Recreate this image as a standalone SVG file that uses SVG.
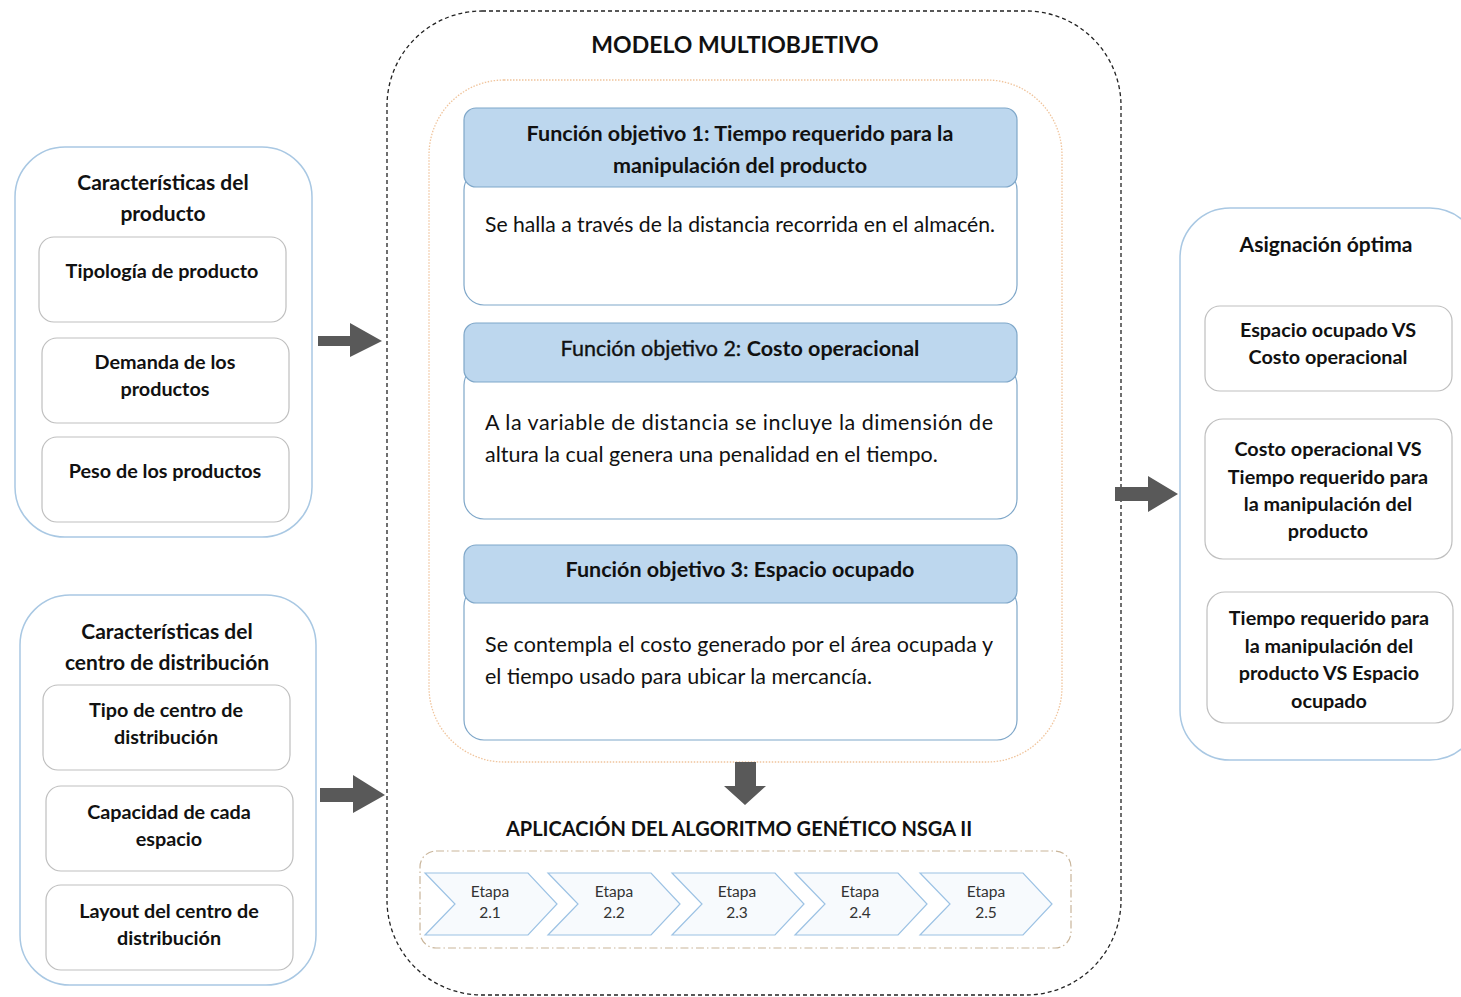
<svg xmlns="http://www.w3.org/2000/svg" width="1461" height="997" viewBox="0 0 1461 997">
  <defs>
    <style>
      text { font-family: Lato, "Open Sans", "Liberation Sans", sans-serif; fill: #111111; }
      .group-box { fill: #ffffff; stroke: #a9c8e3; stroke-width: 1.5; }
      .item-box { fill: #ffffff; stroke: #bfbfbf; stroke-width: 1.2; }
      .item { font-size: 19.8px; font-weight: bold; text-anchor: middle; }
      .title { font-size: 21px; font-weight: bold; text-anchor: middle; }
      .head { font-size: 23px; font-weight: bold; text-anchor: middle; }
      .sub { font-size: 20px; font-weight: bold; text-anchor: middle; }
      .fo-head { fill: #bdd7ee; stroke: #7fa7c9; stroke-width: 1.2; }
      .fo-body { fill: #ffffff; stroke: #7fa7c9; stroke-width: 1.2; }
      .fo-title { font-size: 21.5px; font-weight: bold; text-anchor: middle; }
      .fo-text { font-size: 21.5px; }
      .medium { font-weight: normal; stroke: #111111; stroke-width: 0.35; }
      .chev { fill: #f7fafd; stroke: #9cc2e4; stroke-width: 1.2; }
      .chev-text { font-size: 15.5px; fill: #333333; text-anchor: middle; }
      .block-arrow { fill: #595959; }
    </style>
  </defs>

  <rect width="1461" height="997" fill="#ffffff"/>

  <!-- Multi-objective model container -->
  <g id="modelo">
    <rect x="387" y="11" width="734" height="984" rx="95" ry="95" fill="none" stroke="#222" stroke-width="1.3" stroke-dasharray="4 3"/>
    <text class="head" x="735" y="53">MODELO MULTIOBJETIVO</text>
    <rect x="429" y="80" width="633" height="682" rx="75" ry="75" fill="none" stroke="#f0c49c" stroke-width="1.3" stroke-dasharray="1.5 1.5"/>
  </g>

  <!-- Objective function 1 -->
  <g id="fo1">
    <rect class="fo-body" x="464" y="170" width="553" height="135" rx="20" ry="20"/>
    <rect class="fo-head" x="464" y="108" width="553" height="79" rx="12" ry="12"/>
    <text class="fo-title" x="740" y="141">Función objetivo 1: Tiempo requerido para la</text>
    <text class="fo-title" x="740" y="173">manipulación del producto</text>
    <text class="fo-text" x="485" y="232" textLength="510" lengthAdjust="spacingAndGlyphs">Se halla a través de la distancia recorrida en el almacén.</text>
  </g>

  <!-- Objective function 2 -->
  <g id="fo2">
    <rect class="fo-body" x="464" y="365" width="553" height="154" rx="20" ry="20"/>
    <rect class="fo-head" x="464" y="323" width="553" height="59" rx="12" ry="12"/>
    <text class="fo-title" x="740" y="356"><tspan class="medium">Función objetivo 2: </tspan>Costo operacional</text>
    <text class="fo-text" x="485" y="430" textLength="508" lengthAdjust="spacing">A la variable de distancia se incluye la dimensión de</text>
    <text class="fo-text" x="485" y="462">altura la cual genera una penalidad en el tiempo.</text>
  </g>

  <!-- Objective function 3 -->
  <g id="fo3">
    <rect class="fo-body" x="464" y="586" width="553" height="154" rx="20" ry="20"/>
    <rect class="fo-head" x="464" y="545" width="553" height="58" rx="12" ry="12"/>
    <text class="fo-title" x="740" y="577">Función objetivo 3: Espacio ocupado</text>
    <text class="fo-text" x="485" y="652" textLength="508" lengthAdjust="spacing">Se contempla el costo generado por el área ocupada y</text>
    <text class="fo-text" x="485" y="684">el tiempo usado para ubicar la mercancía.</text>
  </g>

  <!-- NSGA II stages -->
  <g id="nsga">
    <text class="sub" x="739" y="836">APLICACIÓN DEL ALGORITMO GENÉTICO NSGA II</text>
    <rect x="420" y="851" width="651" height="97" rx="16" ry="16" fill="none" stroke="#c9b59a" stroke-width="1.2" stroke-dasharray="8 3 1.5 3"/>
  </g>
  <g id="etapa-2-1">
    <path class="chev" d="M425,873 H528 L557,904 L528,935 H425 L455,904 Z"/>
    <text class="chev-text" x="490" y="897">Etapa</text>
    <text class="chev-text" x="490" y="918">2.1</text>
  </g>
  <g id="etapa-2-2">
    <path class="chev" d="M548,873 H651 L680,904 L651,935 H548 L578,904 Z"/>
    <text class="chev-text" x="614" y="897">Etapa</text>
    <text class="chev-text" x="614" y="918">2.2</text>
  </g>
  <g id="etapa-2-3">
    <path class="chev" d="M672,873 H775 L804,904 L775,935 H672 L702,904 Z"/>
    <text class="chev-text" x="737" y="897">Etapa</text>
    <text class="chev-text" x="737" y="918">2.3</text>
  </g>
  <g id="etapa-2-4">
    <path class="chev" d="M795,873 H898 L927,904 L898,935 H795 L825,904 Z"/>
    <text class="chev-text" x="860" y="897">Etapa</text>
    <text class="chev-text" x="860" y="918">2.4</text>
  </g>
  <g id="etapa-2-5">
    <path class="chev" d="M920,873 H1023 L1052,904 L1023,935 H920 L950,904 Z"/>
    <text class="chev-text" x="986" y="897">Etapa</text>
    <text class="chev-text" x="986" y="918">2.5</text>
  </g>

  <!-- Product characteristics -->
  <g id="producto">
    <rect class="group-box" x="15" y="147" width="297" height="390" rx="50" ry="50"/>
    <text class="title" x="163" y="190">Características del</text>
    <text class="title" x="163" y="221">producto</text>
    <rect class="item-box" x="39" y="237" width="247" height="85" rx="15" ry="15"/>
    <text class="item" x="162" y="278">Tipología de producto</text>
    <rect class="item-box" x="42" y="338" width="247" height="85" rx="15" ry="15"/>
    <text class="item" x="165" y="369">Demanda de los</text>
    <text class="item" x="165" y="396">productos</text>
    <rect class="item-box" x="42" y="437" width="247" height="85" rx="15" ry="15"/>
    <text class="item" x="165" y="478">Peso de los productos</text>
  </g>

  <!-- Distribution centre characteristics -->
  <g id="centro">
    <rect class="group-box" x="20" y="595" width="296" height="390" rx="50" ry="50"/>
    <text class="title" x="167" y="639">Características del</text>
    <text class="title" x="167" y="670">centro de distribución</text>
    <rect class="item-box" x="43" y="685" width="247" height="85" rx="15" ry="15"/>
    <text class="item" x="166" y="717">Tipo de centro de</text>
    <text class="item" x="166" y="744">distribución</text>
    <rect class="item-box" x="46" y="786" width="247" height="85" rx="15" ry="15"/>
    <text class="item" x="169" y="819">Capacidad de cada</text>
    <text class="item" x="169" y="846">espacio</text>
    <rect class="item-box" x="46" y="885" width="247" height="85" rx="15" ry="15"/>
    <text class="item" x="169" y="918">Layout del centro de</text>
    <text class="item" x="169" y="945">distribución</text>
  </g>

  <!-- Optimal assignment -->
  <g id="asignacion">
    <rect class="group-box" x="1180" y="208" width="300" height="552" rx="50" ry="50"/>
    <text class="title" x="1326" y="252">Asignación óptima</text>
    <rect class="item-box" x="1205" y="306" width="247" height="85" rx="15" ry="15"/>
    <text class="item" x="1328" y="337">Espacio ocupado VS</text>
    <text class="item" x="1328" y="364">Costo operacional</text>
    <rect class="item-box" x="1205" y="419" width="247" height="140" rx="18" ry="18"/>
    <text class="item" x="1328" y="456">Costo operacional VS</text>
    <text class="item" x="1328" y="484">Tiempo requerido para</text>
    <text class="item" x="1328" y="511">la manipulación del</text>
    <text class="item" x="1328" y="538">producto</text>
    <rect class="item-box" x="1207" y="592" width="246" height="131" rx="18" ry="18"/>
    <text class="item" x="1329" y="625">Tiempo requerido para</text>
    <text class="item" x="1329" y="653">la manipulación del</text>
    <text class="item" x="1329" y="680">producto VS Espacio</text>
    <text class="item" x="1329" y="708">ocupado</text>
  </g>

  <!-- Block arrows between stages -->
  <g id="connectors">
    <path class="block-arrow" d="M318,336 H350 V323 L382,341 L350,357 V346 H318 Z"/>
    <path class="block-arrow" d="M320,788 H353 V775 L385,795 L353,813 V802 H320 Z"/>
    <path class="block-arrow" d="M1115,487 H1148 V476 L1178,494 L1148,512 V501 H1115 Z"/>
    <path class="block-arrow" d="M735,762 H756 V786 H766 L745,805 L724,786 H735 Z"/>
  </g>
</svg>
